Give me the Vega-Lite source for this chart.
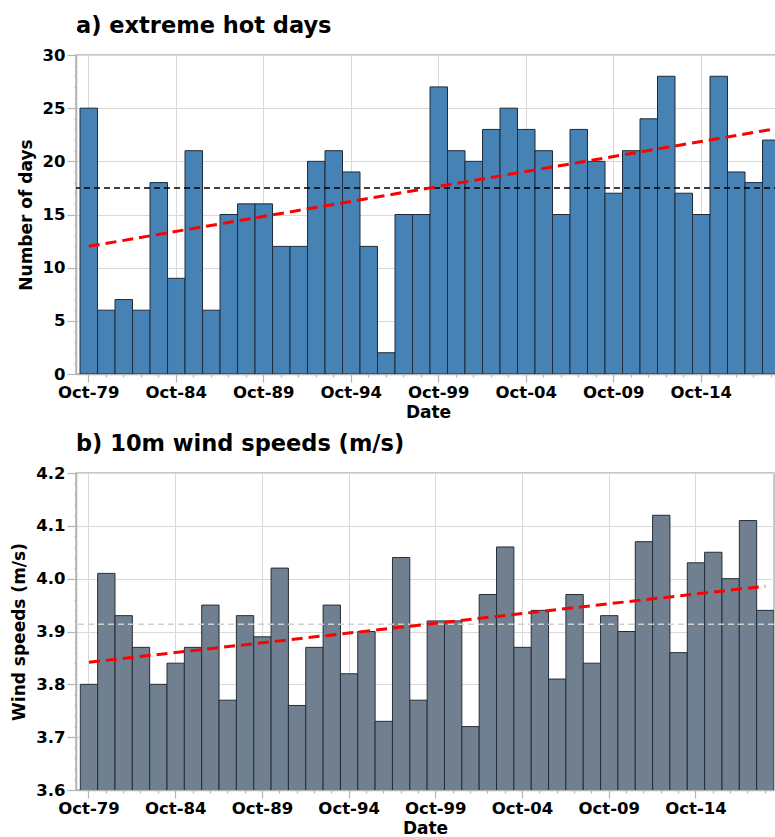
{
  "$schema": "https://vega.github.io/schema/vega-lite/v6.json",
  "padding": {"left": 10, "top": 13, "right": 0, "bottom": 0},
  "columns": 1,
  "align": "none",
  "spacing": 9,
  "config": {
    "font": "DejaVu Sans",
    "view": {"stroke": "#b5b5b5", "strokeWidth": 1.5},
    "axis": {
      "labelFont": "DejaVu Sans",
      "labelFontWeight": "bold",
      "labelFontSize": 16.5,
      "labelColor": "black",
      "labelOverlap": false,
      "titleFont": "DejaVu Sans",
      "titleFontWeight": "bold",
      "titleFontSize": 17,
      "titleColor": "black",
      "domainColor": "#b5b5b5",
      "domainWidth": 1.5,
      "tickColor": "#b5b5b5",
      "tickWidth": 1.2,
      "gridColor": "#d9d9d9",
      "gridWidth": 1
    },
    "title": {
      "font": "DejaVu Sans",
      "fontWeight": "bold",
      "fontSize": 22.5,
      "anchor": "start",
      "frame": "group",
      "color": "black"
    }
  },
  "datasets": {
    "hot": [
      {"year": 1979, "days": 25}, {"year": 1980, "days": 6}, {"year": 1981, "days": 7}, {"year": 1982, "days": 6},
      {"year": 1983, "days": 18}, {"year": 1984, "days": 9}, {"year": 1985, "days": 21}, {"year": 1986, "days": 6},
      {"year": 1987, "days": 15}, {"year": 1988, "days": 16}, {"year": 1989, "days": 16}, {"year": 1990, "days": 12},
      {"year": 1991, "days": 12}, {"year": 1992, "days": 20}, {"year": 1993, "days": 21}, {"year": 1994, "days": 19},
      {"year": 1995, "days": 12}, {"year": 1996, "days": 2}, {"year": 1997, "days": 15}, {"year": 1998, "days": 15},
      {"year": 1999, "days": 27}, {"year": 2000, "days": 21}, {"year": 2001, "days": 20}, {"year": 2002, "days": 23},
      {"year": 2003, "days": 25}, {"year": 2004, "days": 23}, {"year": 2005, "days": 21}, {"year": 2006, "days": 15},
      {"year": 2007, "days": 23}, {"year": 2008, "days": 20}, {"year": 2009, "days": 17}, {"year": 2010, "days": 21},
      {"year": 2011, "days": 24}, {"year": 2012, "days": 28}, {"year": 2013, "days": 17}, {"year": 2014, "days": 15},
      {"year": 2015, "days": 28}, {"year": 2016, "days": 19}, {"year": 2017, "days": 18}, {"year": 2018, "days": 22}
    ],
    "wind": [
      {"year": 1979, "speed": 3.80}, {"year": 1980, "speed": 4.01}, {"year": 1981, "speed": 3.93}, {"year": 1982, "speed": 3.87},
      {"year": 1983, "speed": 3.80}, {"year": 1984, "speed": 3.84}, {"year": 1985, "speed": 3.87}, {"year": 1986, "speed": 3.95},
      {"year": 1987, "speed": 3.77}, {"year": 1988, "speed": 3.93}, {"year": 1989, "speed": 3.89}, {"year": 1990, "speed": 4.02},
      {"year": 1991, "speed": 3.76}, {"year": 1992, "speed": 3.87}, {"year": 1993, "speed": 3.95}, {"year": 1994, "speed": 3.82},
      {"year": 1995, "speed": 3.90}, {"year": 1996, "speed": 3.73}, {"year": 1997, "speed": 4.04}, {"year": 1998, "speed": 3.77},
      {"year": 1999, "speed": 3.92}, {"year": 2000, "speed": 3.92}, {"year": 2001, "speed": 3.72}, {"year": 2002, "speed": 3.97},
      {"year": 2003, "speed": 4.06}, {"year": 2004, "speed": 3.87}, {"year": 2005, "speed": 3.94}, {"year": 2006, "speed": 3.81},
      {"year": 2007, "speed": 3.97}, {"year": 2008, "speed": 3.84}, {"year": 2009, "speed": 3.93}, {"year": 2010, "speed": 3.90},
      {"year": 2011, "speed": 4.07}, {"year": 2012, "speed": 4.12}, {"year": 2013, "speed": 3.86}, {"year": 2014, "speed": 4.03},
      {"year": 2015, "speed": 4.05}, {"year": 2016, "speed": 4.00}, {"year": 2017, "speed": 4.11}, {"year": 2018, "speed": 3.94}
    ]
  },
  "concat": [
    {
      "title": {"text": "a) extreme hot days", "offset": 10},
      "width": 704,
      "height": 319,
      "data": {"name": "hot"},
      "layer": [
        {
          "mark": {"type": "bar", "color": "#4682b4", "stroke": "#1f2b38", "strokeWidth": 1, "clip": true},
          "encoding": {
            "x": {
              "field": "year",
              "type": "ordinal",
              "scale": {"paddingInner": 0, "paddingOuter": 0.115, "align": 1},
              "axis": {
                "title": "Date",
                "labelAngle": 0,
                "labelOverlap": false,
                "labelPadding": 2,
                "titlePadding": 4,
                "labelExpr": "datum.value % 5 == 4 ? 'Oct-' + slice(toString(datum.value), 2) : ''",
                "tickSize": {"condition": {"test": "datum.value % 5 == 4", "value": 8}, "value": 3},
                "grid": true,
                "gridOpacity": {"condition": {"test": "datum.value % 5 == 4", "value": 1}, "value": 0}
              }
            },
            "y": {
              "field": "days",
              "type": "quantitative",
              "scale": {"domain": [0, 30], "nice": false},
              "axis": {
                "title": "Number of days",
                "titlePadding": 7,
                "labelPadding": 2,
                "labelOverlap": false,
                "tickCount": 100,
                "format": "d",
                "values": [0,1,2,3,4,5,6,7,8,9,10,11,12,13,14,15,16,17,18,19,20,21,22,23,24,25,26,27,28,29,30],
                "labelExpr": "datum.value % 5 == 0 ? format(datum.value, 'd') : ''",
                "tickSize": {"condition": {"test": "datum.value % 5 == 0", "value": 9}, "value": 2},
                "grid": true,
                "gridOpacity": {"condition": {"test": "datum.value % 5 == 0", "value": 1}, "value": 0}
              }
            }
          }
        },
        {
          "mark": {"type": "rule", "color": "black", "strokeWidth": 1.5, "strokeDash": [6, 4]},
          "encoding": {"y": {"aggregate": "mean", "field": "days", "type": "quantitative"}}
        },
        {
          "transform": [{"regression": "days", "on": "year"}],
          "mark": {"type": "line", "color": "#ff0000", "strokeWidth": 3, "strokeDash": [11, 6]},
          "encoding": {
            "x": {"field": "year", "type": "ordinal"},
            "y": {"field": "days", "type": "quantitative"}
          }
        }
      ]
    },
    {
      "title": {"text": "b) 10m wind speeds (m/s)", "offset": 10},
      "width": 698,
      "height": 317,
      "data": {"name": "wind"},
      "layer": [
        {
          "mark": {"type": "bar", "color": "#708090", "stroke": "#262d35", "strokeWidth": 1, "clip": true},
          "encoding": {
            "x": {
              "field": "year",
              "type": "ordinal",
              "scale": {"paddingInner": 0, "paddingOuter": 0.124, "align": 1},
              "axis": {
                "title": "Date",
                "labelAngle": 0,
                "labelOverlap": false,
                "labelPadding": 2,
                "titlePadding": 4,
                "labelExpr": "datum.value % 5 == 4 ? 'Oct-' + slice(toString(datum.value), 2) : ''",
                "tickSize": {"condition": {"test": "datum.value % 5 == 4", "value": 8}, "value": 3},
                "grid": true,
                "gridOpacity": {"condition": {"test": "datum.value % 5 == 4", "value": 1}, "value": 0}
              }
            },
            "y": {
              "field": "speed",
              "type": "quantitative",
              "scale": {"domain": [3.6, 4.2], "nice": false, "zero": false},
              "axis": {
                "title": "Wind speeds (m/s)",
                "titlePadding": 7,
                "labelPadding": 2,
                "labelOverlap": false,
                "tickCount": 100,
                "format": ".1f",
                "values": [3.6,3.62,3.64,3.66,3.68,3.7,3.72,3.74,3.76,3.78,3.8,3.82,3.84,3.86,3.88,3.9,3.92,3.94,3.96,3.98,4.0,4.02,4.04,4.06,4.08,4.1,4.12,4.14,4.16,4.18,4.2],
                "labelExpr": "abs(datum.value * 10 - round(datum.value * 10)) < 0.001 ? format(datum.value, '.1f') : ''",
                "tickSize": {"condition": {"test": "abs(datum.value * 10 - round(datum.value * 10)) < 0.001", "value": 9}, "value": 2},
                "grid": true,
                "gridOpacity": {"condition": {"test": "abs(datum.value * 10 - round(datum.value * 10)) < 0.001", "value": 1}, "value": 0}
              }
            }
          }
        },
        {
          "mark": {"type": "rule", "color": "#cfcfcf", "strokeWidth": 1.5, "strokeDash": [6, 4]},
          "encoding": {"y": {"aggregate": "mean", "field": "speed", "type": "quantitative"}}
        },
        {
          "transform": [{"regression": "speed", "on": "year"}],
          "mark": {"type": "line", "color": "#ff0000", "strokeWidth": 3, "strokeDash": [11, 6]},
          "encoding": {
            "x": {"field": "year", "type": "ordinal"},
            "y": {"field": "speed", "type": "quantitative"}
          }
        }
      ]
    }
  ]
}
